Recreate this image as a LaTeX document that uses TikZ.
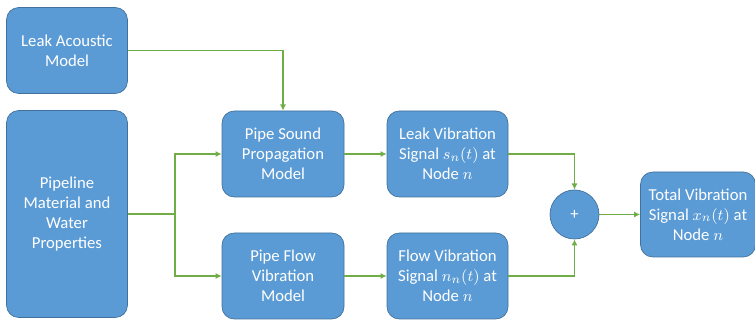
\documentclass[tikz,border=0pt]{standalone}
\usepackage{fontspec}
\setmainfont{Carlito}
\usepackage{amsmath}
\usepackage{tikz}
\usetikzlibrary{positioning, calc, arrows.meta, shapes.geometric}
\definecolor{boxblue}{RGB}{91,155,213}
\definecolor{boxedge}{RGB}{65,113,156}
\definecolor{arrgreen}{RGB}{112,173,71}
\tikzset{blk/.style={draw=boxedge, fill=boxblue, text=white, rounded corners=7pt, align=center, minimum width=2.42cm, minimum height=1.72cm, inner sep=2pt, font=\fontsize{9.5}{11.4}\selectfont}}
\tikzset{sumnode/.style={circle, draw=boxedge, fill=boxblue, text=white, minimum size=0.98cm, inner sep=0pt, font=\fontsize{9.5}{11.4}\selectfont}}
\tikzset{arr/.style={draw=arrgreen, line width=1.1pt, -{Latex[length=3.5pt, width=3.5pt]}}}
\tikzset{ln/.style={draw=arrgreen, line width=1.1pt}}

\begin{document}
\begin{tikzpicture}
                \useasboundingbox (0,0) rectangle (15.1,-6.42);
                \node[blk] (lam) at (1.34,-1.01) {Leak Acoustic\\Model};
                \node[blk, minimum height=4.14cm] (pip) at (1.34,-4.28) {Pipeline\\Material and\\Water\\Properties};
                \node[blk, minimum width=2.44cm] (psp) at (5.66,-3.08) {Pipe Sound\\Propagation\\Model};
                \node[blk, minimum width=2.44cm] (pfv) at (5.66,-5.52) {Pipe Flow\\Vibration\\Model};
                \node[blk] (lvs) at (8.95,-3.08) {Leak Vibration\\Signal $s_n(t)$ at\\Node $n$};
                \node[blk] (fvs) at (8.95,-5.52) {Flow Vibration\\Signal $n_n(t)$ at\\Node $n$};
                \node[sumnode] (sum) at (11.49,-4.29) {+};
                \node[blk, minimum width=2.3cm, minimum height=1.7cm] (tot) at (13.96,-4.29) {Total Vibration\\Signal $x_n(t)$ at\\Node $n$};
                \coordinate (br) at (3.5,-4.28);
                %
                \draw[arr] (lam.east) -| (psp.north);
                \draw[ln] (pip.east) -- (br);
                \draw[arr] (br) |- (psp.west);
                \draw[arr] (br) |- (pfv.west);
                %
                \draw[arr] (psp) to (lvs);
                \draw[arr] (pfv) to (fvs);
                %
                \draw[arr] (lvs.east) -| (sum.north);
                \draw[arr] (fvs.east) -| (sum.south);
                \draw[arr] (sum) to (tot);
                %
            \end{tikzpicture}
\end{document}
